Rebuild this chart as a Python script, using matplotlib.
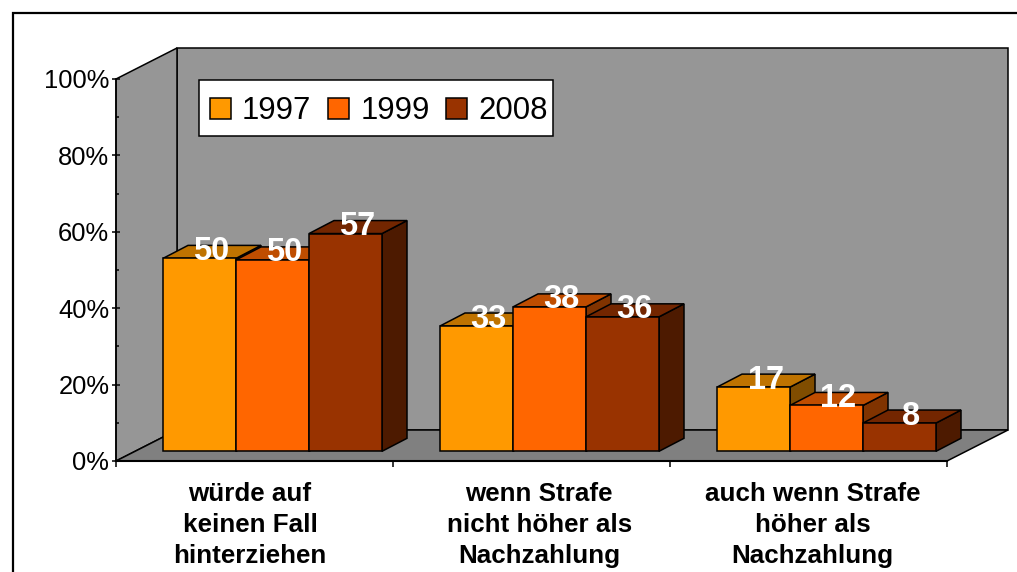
# 3D style grouped bars, drawn by hand since the look is an old Excel chart

import matplotlib
matplotlib.use('Agg')
import matplotlib.pyplot as plt
from matplotlib.lines import Line2D
from matplotlib.patches import Patch, Polygon, Rectangle
from matplotlib.ticker import MultipleLocator, PercentFormatter

plt.rcParams['font.family'] = ['Liberation Sans', 'DejaVu Sans']

categories = ['würde auf\nkeinen Fall\nhinterziehen',
              'wenn Strafe\nnicht höher als\nNachzahlung',
              'auch wenn Strafe\nhöher als\nNachzahlung']
years = ['1997', '1999', '2008']

# bar heights, labels as printed on the bars
heights_1997 = [50.5, 32.8, 16.8]
heights_1999 = [50.1, 37.8, 12.0]
heights_2008 = [57.0, 35.2, 7.4]
labels_1997 = ['50', '33', '17']
labels_1999 = ['50', '38', '12']
labels_2008 = ['57', '36', '8']

front_colors = ['#FF9900', '#FF6600', '#993300']
top_colors = ['#BF7300', '#BF4D00', '#732600']
side_colors = ['#804D00', '#803300', '#4D1A00']

W, H = 1017, 572
left, right, bottom, top = 116, 947, 461, 79

fig = plt.figure(figsize=(W / 100, H / 100), dpi=100)
ax = fig.add_axes([left / W, 1 - bottom / H, (right - left) / W, (bottom - top) / H])
ax.set_xlim(0, 3)
ax.set_ylim(0, 100)
ax.patch.set_visible(False)

px_x = 3 / (right - left)
px_y = 100 / (bottom - top)

# depth of the chart box and of the bars
box_dx, box_dy = 61 * px_x, 31 * px_y
bar_dx, bar_dy = 25 * px_x, 13 * px_y
bar_w = 73 * px_x
gap = 29 * px_x
base_dx, base_dy = 18 * px_x, 9.7 * px_y


def poly(pts, color, z, edge='black', lw=1.1):
    ax.add_patch(Polygon(pts, closed=True, facecolor=color, edgecolor=edge, linewidth=lw,
                         joinstyle='miter', clip_on=False, zorder=z))


# walls and floor
poly([(box_dx, box_dy), (3 + box_dx, box_dy), (3 + box_dx, 100 + box_dy), (box_dx, 100 + box_dy)],
     '#969696', 1)
poly([(0, 0), (box_dx, box_dy), (box_dx, 100 + box_dy), (0, 100)], '#969696', 1)
poly([(0, 0), (3, 0), (3 + box_dx, box_dy), (box_dx, box_dy)], '#808080', 1.5)

all_heights = [heights_1997, heights_1999, heights_2008]
all_labels = [labels_1997, labels_1999, labels_2008]

z = 2
for i in range(len(categories)):
    for j in range(len(years)):
        h = all_heights[j][i]
        x0 = i + gap + base_dx + j * bar_w
        x1 = x0 + bar_w
        y0 = base_dy
        y1 = base_dy + h
        poly([(x1, y0), (x1 + bar_dx, y0 + bar_dy), (x1 + bar_dx, y1 + bar_dy), (x1, y1)],
             side_colors[j], z)
        poly([(x0, y1), (x1, y1), (x1 + bar_dx, y1 + bar_dy), (x0 + bar_dx, y1 + bar_dy)],
             top_colors[j], z)
        poly([(x0, y0), (x1, y0), (x1, y1), (x0, y1)], front_colors[j], z)
        z += 0.1

z += 1
for i in range(len(categories)):
    for j in range(len(years)):
        x = i + gap + base_dx + (j + 0.5) * bar_w + 12 * px_x
        y = base_dy + all_heights[j][i] + 7 * px_y
        ax.text(x, y, all_labels[j][i], color='white', fontsize=23.5, fontweight='bold',
                ha='center', va='center', zorder=z, clip_on=False)

# axis
ax.spines['top'].set_visible(False)
ax.spines['right'].set_visible(False)
ax.spines['left'].set_linewidth(1.1)
ax.spines['bottom'].set_linewidth(1.5)
ax.spines['left'].set_zorder(1.6)
ax.spines['bottom'].set_zorder(1.6)

ax.yaxis.set_major_locator(MultipleLocator(20))
ax.yaxis.set_minor_locator(MultipleLocator(10))
ax.yaxis.set_major_formatter(PercentFormatter(100, decimals=0))
ax.tick_params(axis='y', which='major', direction='inout', length=6, width=1.1,
               labelsize=18.4, pad=1.8)
ax.tick_params(axis='y', which='minor', direction='in', length=2.5, width=1.1)

ax.set_xticks([0, 1, 2, 3])
ax.set_xticklabels([])
ax.tick_params(axis='x', which='major', direction='out', length=4.5, width=1.1)
ax.set_xticks([0.484, 1.528, 2.515], minor=True)
ax.set_xticklabels(categories, minor=True, fontsize=18.7, fontweight='bold', linespacing=1.36)
ax.tick_params(axis='x', which='minor', length=0, pad=15)

# legend box is drawn on its own since its right padding is narrower than the left
fig.add_artist(Rectangle((199 / W, 1 - 136 / H), 354 / W, 56 / H, transform=fig.transFigure,
                         facecolor='white', edgecolor='black', linewidth=1.1, zorder=40))
handles = [Patch(facecolor=front_colors[k], edgecolor='black', linewidth=1.1, label=years[k])
           for k in range(len(years))]
leg = fig.legend(handles=handles, ncol=3, loc='upper left', fontsize=22.4, frameon=False,
                 bbox_to_anchor=(210 / W, 1 - 96 / H), bbox_transform=fig.transFigure,
                 borderaxespad=0, handlelength=0.67, handleheight=0.67, handletextpad=0.36,
                 columnspacing=0.54, borderpad=0)
leg.set_zorder(50)

# outer frame, cut off at the right and bottom of the picture
fig.add_artist(Line2D([12.5 / W, 12.5 / W, 1], [0, 1 - 12.5 / H, 1 - 12.5 / H], color='black',
                      linewidth=1.6, solid_joinstyle='miter'))

fig.savefig('out.png', dpi=100)
